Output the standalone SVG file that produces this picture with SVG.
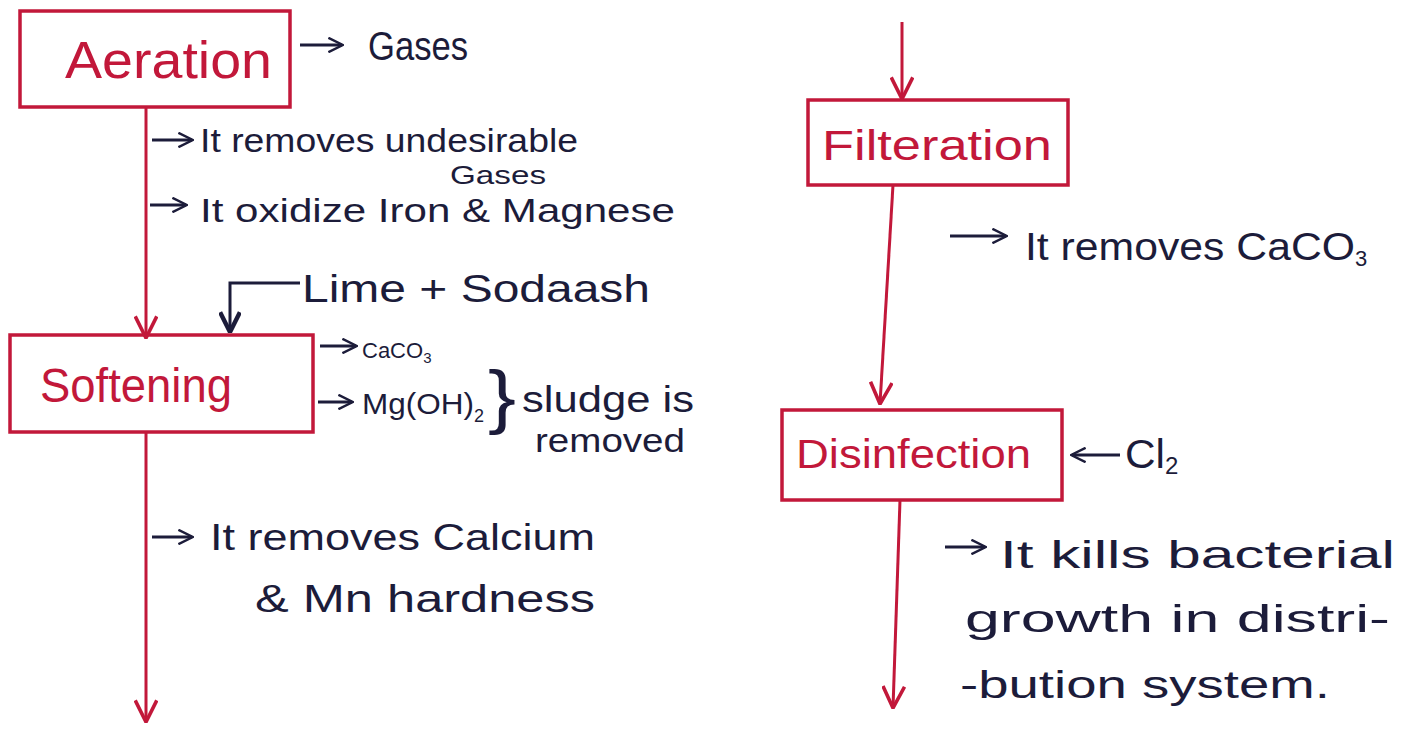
<svg xmlns="http://www.w3.org/2000/svg" width="1415" height="729" viewBox="0 0 1415 729">
<style>
.box{fill:none;stroke:#c2183a;stroke-width:3.5}
.flow{fill:none;stroke:#c2183a;stroke-width:3}
.ink{fill:none;stroke:#1c1c3a;stroke-width:3}
.lbl{font-family:"Liberation Sans",Arial,sans-serif;fill:#c2183a}
.t{font-family:"Liberation Sans",Arial,sans-serif;fill:#1c1c3a}
</style>
<defs>
<marker id="ar" viewBox="0 0 20 20" refX="19" refY="10" markerWidth="24" markerHeight="24" markerUnits="userSpaceOnUse" orient="auto">
<path d="M1,1 L19,10 L1,19" fill="none" stroke="#c2183a" stroke-width="3"/>
</marker>
<marker id="ak" viewBox="0 0 20 20" refX="18" refY="10" markerWidth="22" markerHeight="22" markerUnits="userSpaceOnUse" orient="auto">
<path d="M1,1 L19,10 L1,19" fill="none" stroke="#1c1c3a" stroke-width="4"/>
</marker>
<marker id="ak2" viewBox="0 0 20 20" refX="18" refY="10" markerWidth="16" markerHeight="16" markerUnits="userSpaceOnUse" orient="auto">
<path d="M1,1 L19,10 L1,19" fill="none" stroke="#1c1c3a" stroke-width="3"/>
</marker>
</defs>
<rect width="1415" height="729" fill="#ffffff"/>

<g id="connectors">
<line class="flow" x1="146" y1="107" x2="146" y2="338" marker-end="url(#ar)"/>
<line class="flow" x1="146" y1="432" x2="146" y2="722" marker-end="url(#ar)"/>
<line class="flow" x1="902" y1="22" x2="902" y2="99" marker-end="url(#ar)"/>
<line class="flow" x1="893" y1="185" x2="880" y2="404" marker-end="url(#ar)"/>
<line class="flow" x1="900" y1="500" x2="893" y2="708" marker-end="url(#ar)"/>
<polyline class="ink" points="300,283 230,283 230,331" marker-end="url(#ak)"/>
<line class="ink" x1="1120" y1="455" x2="1072" y2="455" marker-end="url(#ak2)"/>
<line class="ink" x1="300" y1="45" x2="342" y2="45" marker-end="url(#ak2)"/>
<line class="ink" x1="152" y1="140" x2="192" y2="140" marker-end="url(#ak2)"/>
<line class="ink" x1="150" y1="205" x2="186" y2="205" marker-end="url(#ak2)"/>
<line class="ink" x1="320" y1="346" x2="356" y2="346" marker-end="url(#ak2)"/>
<line class="ink" x1="318" y1="402" x2="352" y2="402" marker-end="url(#ak2)"/>
<line class="ink" x1="152" y1="537" x2="192" y2="537" marker-end="url(#ak2)"/>
<line class="ink" x1="950" y1="236" x2="1006" y2="236" marker-end="url(#ak2)"/>
<line class="ink" x1="945" y1="547" x2="985" y2="547" marker-end="url(#ak2)"/>
</g>

<g id="aeration">
<rect class="box" x="20" y="11" width="270" height="96"/>
<text class="lbl" x="65" y="78" font-size="52" textLength="207" lengthAdjust="spacingAndGlyphs">Aeration</text>
</g>
<g id="aeration-notes">
<text class="t" x="368" y="60" font-size="40" textLength="100" lengthAdjust="spacingAndGlyphs">Gases</text>
<text class="t" x="200" y="152" font-size="34" textLength="378" lengthAdjust="spacingAndGlyphs">It removes undesirable</text>
<text class="t" x="450" y="184" font-size="26" textLength="96" lengthAdjust="spacingAndGlyphs">Gases</text>
<text class="t" x="200" y="222" font-size="34" textLength="475" lengthAdjust="spacingAndGlyphs">It oxidize Iron &amp; Magnese</text>
</g>

<g id="lime">
<text class="t" x="302" y="302" font-size="38" textLength="348" lengthAdjust="spacingAndGlyphs">Lime + Sodaash</text>
</g>

<g id="softening">
<rect class="box" x="10" y="335" width="303" height="97"/>
<text class="lbl" x="40" y="402" font-size="48" textLength="192" lengthAdjust="spacingAndGlyphs">Softening</text>
</g>
<g id="softening-notes">
<text class="t" x="362" y="358" font-size="22">CaCO<tspan font-size="15" dy="5">3</tspan></text>
<text class="t" x="362" y="414" font-size="30"><tspan textLength="112" lengthAdjust="spacingAndGlyphs">Mg(OH)</tspan><tspan font-size="18" dy="8">2</tspan></text>
<text class="t" x="488" y="420" font-size="70" textLength="28" lengthAdjust="spacingAndGlyphs">}</text>
<text class="t" x="522" y="412" font-size="36" textLength="172" lengthAdjust="spacingAndGlyphs">sludge is</text>
<text class="t" x="535" y="452" font-size="34" textLength="150" lengthAdjust="spacingAndGlyphs">removed</text>
<text class="t" x="210" y="550" font-size="36" textLength="385" lengthAdjust="spacingAndGlyphs">It removes Calcium</text>
<text class="t" x="255" y="612" font-size="38" textLength="340" lengthAdjust="spacingAndGlyphs">&amp; Mn hardness</text>
</g>

<g id="filteration">
<rect class="box" x="808" y="100" width="260" height="85"/>
<text class="lbl" x="822" y="160" font-size="42" textLength="230" lengthAdjust="spacingAndGlyphs">Filteration</text>
</g>
<g id="filteration-notes">
<text class="t" x="1025" y="260" font-size="38"><tspan textLength="330" lengthAdjust="spacingAndGlyphs">It removes CaCO</tspan><tspan font-size="22" dy="6">3</tspan></text>
</g>

<g id="disinfection">
<rect class="box" x="782" y="410" width="280" height="90"/>
<text class="lbl" x="796" y="468" font-size="40" textLength="235" lengthAdjust="spacingAndGlyphs">Disinfection</text>
</g>
<g id="disinfection-notes">
<text class="t" x="1125" y="468" font-size="40"><tspan textLength="40" lengthAdjust="spacingAndGlyphs">Cl</tspan><tspan font-size="24" dy="6">2</tspan></text>
<text class="t" x="1000" y="568" font-size="38" textLength="395" lengthAdjust="spacingAndGlyphs">It kills bacterial</text>
<text class="t" x="965" y="632" font-size="38" textLength="425" lengthAdjust="spacingAndGlyphs">growth in distri-</text>
<text class="t" x="960" y="698" font-size="38" textLength="370" lengthAdjust="spacingAndGlyphs">-bution system.</text>
</g>
</svg>
